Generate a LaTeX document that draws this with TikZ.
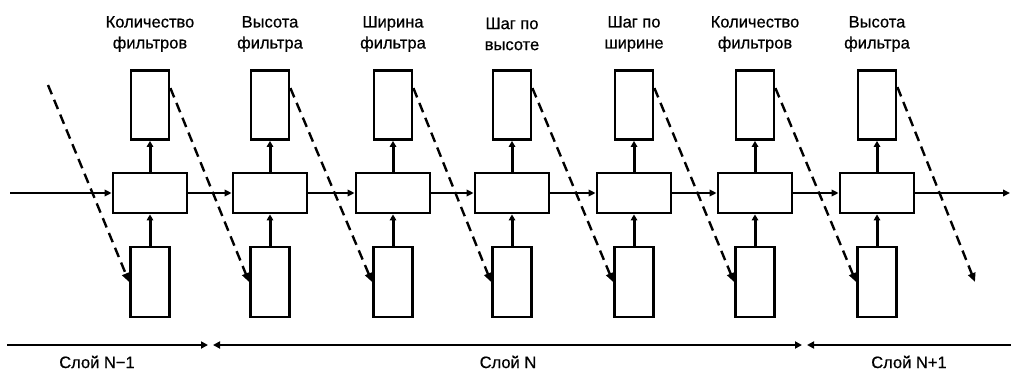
\documentclass[tikz,border=0pt]{standalone}
\usepackage{fontspec}
\setmainfont{Liberation Sans}[FakeBold=0.6]
\usetikzlibrary{arrows.meta,calc}
\tikzset{btip/.tip={Triangle[length=7pt,width=7pt]}}
\begin{document}
\begin{tikzpicture}[x=1pt,y=-1pt,
  box/.style={draw, line width=2.8pt, inner sep=0pt, fill=white},
  topbox/.style={box, minimum width=38pt, minimum height=69pt},
  midbox/.style={box, minimum width=74pt, minimum height=40pt},
  botbox/.style={box, minimum width=39pt, minimum height=70pt},
  lbl/.style={font=\fontsize{16.5}{21}\selectfont, align=center, inner sep=0pt},
  layerlbl/.style={font=\fontsize{16.5}{20}\selectfont, inner sep=0pt},
  flow/.style={line width=2.2pt, -{Triangle[length=7pt,width=6.5pt]}},
  vflow/.style={line width=3pt, -{Triangle[length=6pt,width=6.5pt]}},
  dsh/.style={line width=2.4pt, dash pattern=on 10pt off 6pt, -{Triangle[length=9pt,width=7.5pt]}},
  bline/.style={line width=2.8pt}
]
\useasboundingbox (0,0) rectangle (1011,372);
\fill[white] (0,0) rectangle (1011,372);

\foreach \i/\x/\t in {1/150/{Количество\\фильтров},2/270/{Высота\\фильтра},3/393/{Ширина\\фильтра},4/512/{Шаг по\\высоте},5/634/{Шаг по\\ширине},6/755/{Количество\\фильтров},7/877/{Высота\\фильтра}}{
  \node[topbox] (t\i) at (\x,105) {};
  \node[midbox] (m\i) at (\x,193) {};
  \node[botbox] (b\i) at (\x,282) {};
  \node[lbl] (l\i) at (\x,34) {\t};
}

% horizontal flow
\coordinate (in) at (10,193);
\coordinate (out) at (1010,193);
\draw[flow] (in) -- (m1);
\foreach \i/\j in {1/2,2/3,3/4,4/5,5/6,6/7}{
  \draw[flow] (m\i) -- (m\j);
}
\draw[flow] (m7) -- (out);

% vertical arrows
\foreach \i in {1,...,7}{
  \draw[vflow] (m\i) -- (t\i);
  \draw[vflow] (b\i) -- (m\i);
}

% dashed arrows
\coordinate (d0) at (48,85);
\coordinate (d8) at (975,282);
\draw[dsh] (d0) -- (b1.west);
\foreach \i/\j in {1/2,2/3,3/4,4/5,5/6,6/7}{
  \draw[dsh] ($(t\i.north east)+(0,19)$) -- (b\j.west);
}
\draw[dsh] ($(t7.north east)+(0,18)$) -- (d8);

% layer ranges
\coordinate (r0) at (7,345);
\coordinate (r1) at (208,345);
\coordinate (r2) at (213,345);
\coordinate (r3) at (802,345);
\coordinate (r4) at (807,345);
\coordinate (r5) at (1011,345);
\draw[bline, -btip] (r0) -- (r1);
\draw[bline, btip-btip] (r2) -- (r3);
\draw[bline, btip-] (r4) -- (r5);

\node[layerlbl] (s1) at (97,362) {Слой N−1};
\node[layerlbl] (s2) at (508,362) {Слой N};
\node[layerlbl] (s3) at (909,362) {Слой N+1};
\end{tikzpicture}
\end{document}
